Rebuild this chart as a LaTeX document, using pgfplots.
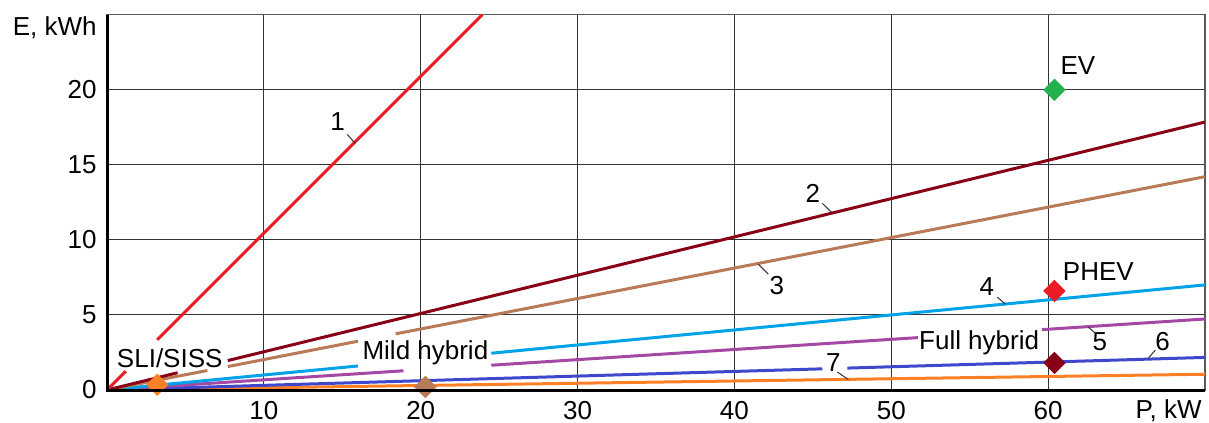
\documentclass[border=0pt]{standalone}
\usepackage{fontspec}
\setmainfont{Liberation Sans}
\usepackage{pgfplots}
\pgfplotsset{compat=1.18}

\definecolor{cRed}{HTML}{ED1C24}
\definecolor{cMaroon}{HTML}{880015}
\definecolor{cBrown}{HTML}{B97A57}
\definecolor{cSky}{HTML}{00A2E8}
\definecolor{cPurple}{HTML}{A349A4}
\definecolor{cBlue}{HTML}{3F48CC}
\definecolor{cOrange}{HTML}{FF7F27}
\definecolor{cGreen}{HTML}{22B14C}

\newcommand{\lbl}{\fontsize{13bp}{15bp}\selectfont}

\begin{document}
\begin{tikzpicture}[font=\lbl]
\useasboundingbox (-53.5bp,-16.5bp) rectangle (551bp,195bp);
\begin{axis}[
  at={(0,0)}, anchor=south west,
  scale only axis, width=549bp, height=187.65bp,
  xmin=0, xmax=70, ymin=0, ymax=25,
  xtick={10,20,...,60}, ytick={0,5,...,20},
  grid=major, major grid style={black!80, line width=0.55bp},
  major tick length=0pt,
  axis line style={black!65, line width=0.6bp},
  /pgf/number format/assume math mode=true,
  tick label style={font=\lbl},
  xticklabel style={anchor=north, inner sep=0pt, yshift=-5.6bp},
  yticklabel style={anchor=east, inner sep=0pt, xshift=-5bp},
  unbounded coords=jump,
  clip mode=individual,
  every axis plot/.append style={line width=1.5bp},
]
% energy-power characteristics, 7 battery types
\addplot[cOrange] coordinates {(0,0) (70,1.05)};
\addplot[cBlue] coordinates {(0,0) (45.6,1.41) (46.4,nan) (47.2,1.46) (70,2.17)};
\addplot[cPurple] coordinates {(0,0) (18.9,1.28) (20,nan) (24.5,1.65) (51.7,3.49) (55,nan) (59.6,4.02) (70,4.73)};
\addplot[cSky] coordinates {(0,0) (16,1.6) (20,nan) (24.5,2.45) (70,7)};
\addplot[cBrown] coordinates {(0,0) (6.4,1.3) (7,nan) (7.7,1.56) (16,3.25) (17,nan) (18.4,3.74) (70,14.21)};
\addplot[cMaroon] coordinates {(0,0) (4.5,1.15) (6,nan) (7.7,1.96) (70,17.85)};
\addplot[cRed] coordinates {(0,0) (1.2,1.25) (2,nan) (3.2,3.34) (23.92,25)};

% vehicle requirement points
\addplot[only marks, mark=square*, mark size=3.2bp, mark options={rotate=45, draw=cOrange, fill=cOrange}] coordinates {(3.2,0.35)};
\addplot[only marks, mark=square*, mark size=3.2bp, mark options={rotate=45, draw=cBrown, fill=cBrown}] coordinates {(20.3,0.2)};
\addplot[only marks, mark=square*, mark size=3.2bp, mark options={rotate=45, draw=cMaroon, fill=cMaroon}] coordinates {(60.4,1.8)};
\addplot[only marks, mark=square*, mark size=3.2bp, mark options={rotate=45, draw=cRed, fill=cRed}] coordinates {(60.4,6.6)};
\addplot[only marks, mark=square*, mark size=3.2bp, mark options={rotate=45, draw=cGreen, fill=cGreen}] coordinates {(60.4,20)};

% vehicle class labels
\node[anchor=base, inner sep=0pt] at (axis cs:4.0,1.53) {SLI/SISS};
\node[anchor=base, inner sep=0pt] at (axis cs:20.3,2.0) {Mild hybrid};
\node[anchor=base, inner sep=0pt] at (axis cs:55.6,2.73) {Full hybrid};
\node[anchor=base, inner sep=0pt] at (axis cs:63.2,7.3) {PHEV};
\node[anchor=base, inner sep=0pt] at (axis cs:61.9,21.0) {EV};

% curve numbers with leaders
\node[anchor=base, inner sep=0pt] at (axis cs:14.7,17.3) {1};
\node[anchor=base, inner sep=0pt] at (axis cs:45.0,12.5) {2};
\node[anchor=base, inner sep=0pt] at (axis cs:42.7,6.35) {3};
\node[anchor=base, inner sep=0pt] at (axis cs:56.1,6.3) {4};
\node[anchor=base, inner sep=0pt] at (axis cs:63.3,2.66) {5};
\node[anchor=base, inner sep=0pt] at (axis cs:67.3,2.6) {6};
\node[anchor=base, inner sep=0pt] at (axis cs:46.3,1.22) {7};
\draw[black!80, line width=0.5bp] (axis cs:15.31,17.03) -- (axis cs:15.82,16.43);
\draw[black!80, line width=0.5bp] (axis cs:45.6,12.44) -- (axis cs:46.24,11.78);
\draw[black!80, line width=0.5bp] (axis cs:41.52,8.38) -- (axis cs:42.16,7.72);
\draw[black!80, line width=0.5bp] (axis cs:56.76,6.19) -- (axis cs:57.27,5.72);
\draw[black!80, line width=0.5bp] (axis cs:62.56,4.19) -- (axis cs:63.0,3.79);
\draw[black!80, line width=0.5bp] (axis cs:66.84,2.66) -- (axis cs:66.39,2.13);
\draw[black!80, line width=0.5bp] (axis cs:46.56,1.2) -- (axis cs:47.26,0.7);

% heavy left and bottom axes, axis titles
\draw[black, line width=1.5bp] (rel axis cs:0,1) -- (rel axis cs:0,0) -- (rel axis cs:1,0);
\node[anchor=north east, inner sep=0pt, xshift=-5bp, yshift=-1bp] at (rel axis cs:0,1) {E, kWh};
\node[anchor=north east, inner sep=0pt, xshift=-1.5bp, yshift=-4.8bp] at (rel axis cs:1,0) {P, kW};
\end{axis}
\end{tikzpicture}
\end{document}
